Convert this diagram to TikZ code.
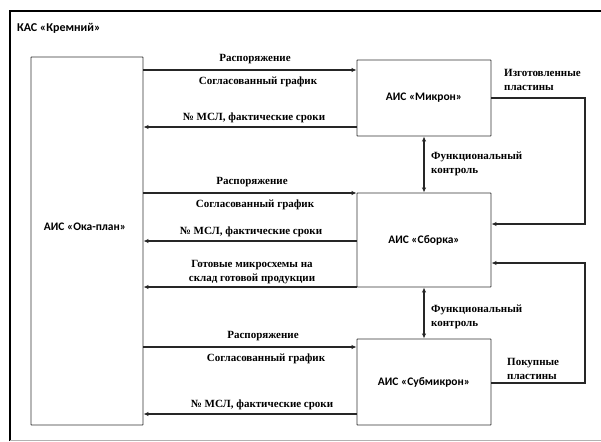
\documentclass[tikz,border=0pt]{standalone}
\usepackage{fontspec}
\setmainfont{Liberation Serif}
\newfontfamily\boxfont{Carlito}
\usetikzlibrary{positioning,arrows.meta}

\tikzset{
  sys/.style={draw=black!80,line width=0.9pt,rounded corners=0.5pt,font=\boxfont\bfseries\fontsize{11.5}{13}\selectfont},
  lbl/.style={inner sep=0pt,font=\bfseries\fontsize{11}{14}\selectfont,align=center},
  lblw/.style={lbl,anchor=west,align=left},
  flow/.style={draw=black!85,line width=1.3pt,-{Latex[length=5pt,width=4.5pt]}},
  both/.style={flow,{Latex[length=5pt,width=4.5pt]}-{Latex[length=5pt,width=4.5pt]}}
}

\begin{document}
\begin{tikzpicture}[x=1pt,y=-1pt]
\useasboundingbox (0,0) rectangle (601,441);
\fill[white] (0,0) rectangle (601,441);
% outer frame
\draw[line width=2.5pt] (10,441) -- (10,11) -- (601,11);
\draw[black!30,line width=0.8pt] (10,440) -- (601,440);
\node[anchor=west,inner sep=0pt,font=\boxfont\bfseries\fontsize{12}{14}\selectfont] (kas) at (17,28) {КАС «Кремний»};

% systems
\node[sys,minimum width=112pt,minimum height=368pt] (oka) at (87,241) {};
\node[font=\boxfont\bfseries\fontsize{11.5}{13}\selectfont] (okatext) at (85,227) {АИС «Ока-план»};
\node[sys,minimum width=134pt,minimum height=76pt] (mikron) at (424,98) {АИС «Микрон»};
\node[sys,minimum width=134pt,minimum height=94pt] (sborka) at (424,240) {АИС «Сборка»};
\node[sys,minimum width=134pt,minimum height=86pt] (submikron) at (424,382) {АИС «Субмикрон»};

% orders and schedules
\foreach \b/\y/\z/\dx in {mikron/70/127/0, sborka/193/241/-3, submikron/347/414/8}{
  \draw[flow] (oka.east |- 0,\y) -- (\b.west |- 0,\y);
  \node[lbl] (rasp-\b) at (255+\dx,\y-11) {Распоряжение};
  \node[lbl] (graf-\b) at (258+\dx,\y+12) {Согласованный график};
  \draw[flow] (\b.west |- 0,\z) -- (oka.east |- 0,\z);
  \node[lbl] (msl-\b) at (254+\dx,\z-9) {№ МСЛ, фактические сроки};
}
\draw[flow] (sborka.west |- 0,287) -- (oka.east |- 0,287);
\node[lbl] (gotov) at (252,272) {Готовые микросхемы на\\склад готовой продукции};

% plates
\draw[flow] (mikron.east |- 0,98) -| (585,224) -- (sborka.east |- 0,224);
\node[lblw] (izg) at (504,80) {Изготовленные\\пластины};
\draw[flow] (submikron.east |- 0,383) -| (585,263) -- (sborka.east |- 0,263);
\node[lblw] (pok) at (507,369) {Покупные\\пластины};

% functional control
\draw[both] (mikron.south) -- (sborka.north);
\draw[both] (sborka.south) -- (submikron.north);
\node[lblw] (fk1) at (431,164) {Функциональный\\контроль};
\node[lblw] (fk2) at (431,317) {Функциональный\\контроль};
\end{tikzpicture}
\end{document}
